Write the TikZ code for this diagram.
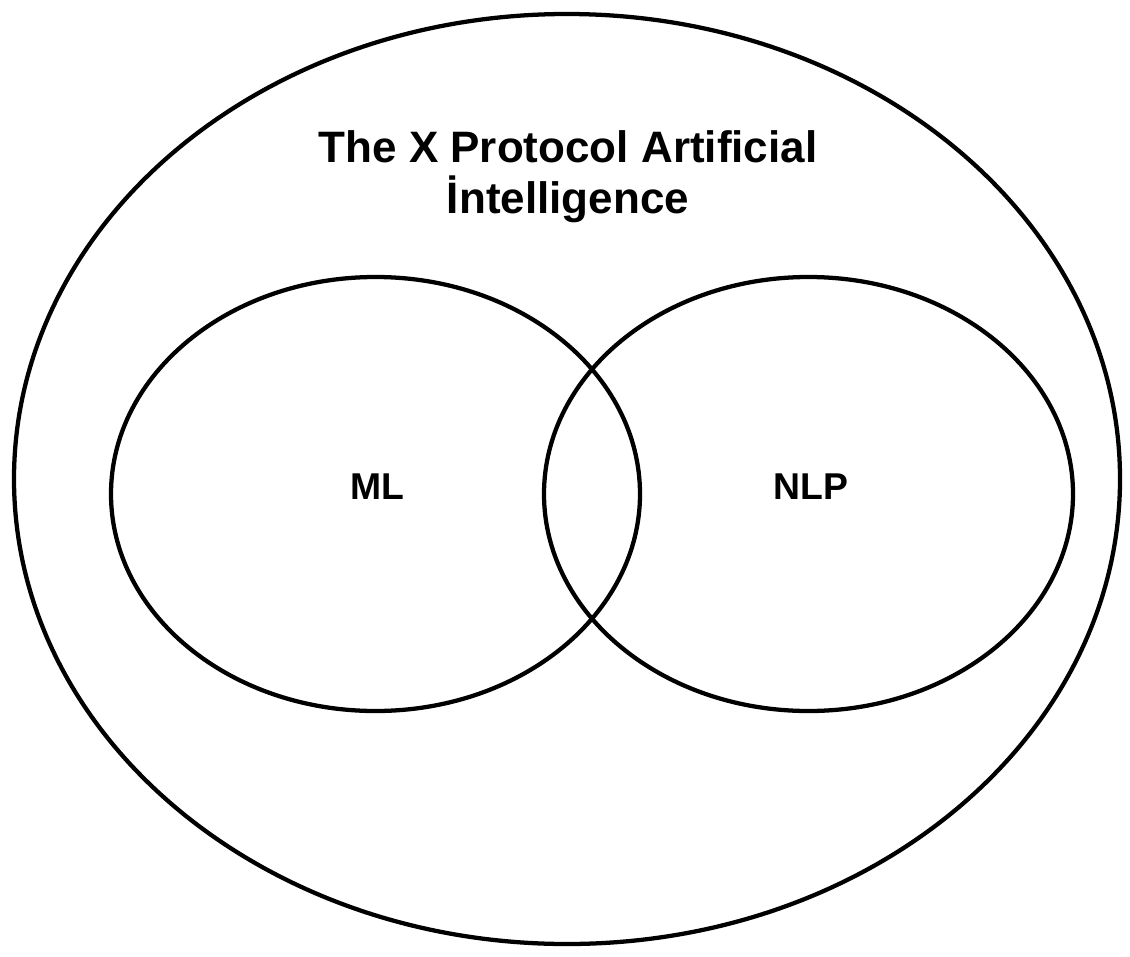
\documentclass[tikz,border=0pt]{standalone}
\usepackage{fontspec}
\setmainfont{Liberation Sans}
\usetikzlibrary{shapes.geometric,positioning}

\tikzset{
  setring/.style={draw, ellipse, line width=3.2pt, inner sep=0pt},
  setlabel/.style={font=\bfseries\fontsize{28}{32}\selectfont}
}

\begin{document}
\begin{tikzpicture}[x=0.75pt, y=-0.75pt]
\useasboundingbox (0,0) rectangle (1130,956);
% outer set
\node[setring, minimum width=829.5pt, minimum height=697.5pt] (ai) at (567,479) {};
\node[font=\bfseries\fontsize{33}{38.25}\selectfont, align=center, anchor=base] (title) at (568,213)
  {The X Protocol Artificial\\İntelligence};
% inner sets
\node[setring, minimum width=396.75pt, minimum height=325.5pt] (ml) at (375.5,494) {};
\node[setring, minimum width=396.75pt, minimum height=325.5pt] (nlp) at (808.5,494) {};
\node[setlabel] (mltext) at (377,487) {ML};
\node[setlabel] (nlptext) at (811,487) {NLP};
\end{tikzpicture}
\end{document}
